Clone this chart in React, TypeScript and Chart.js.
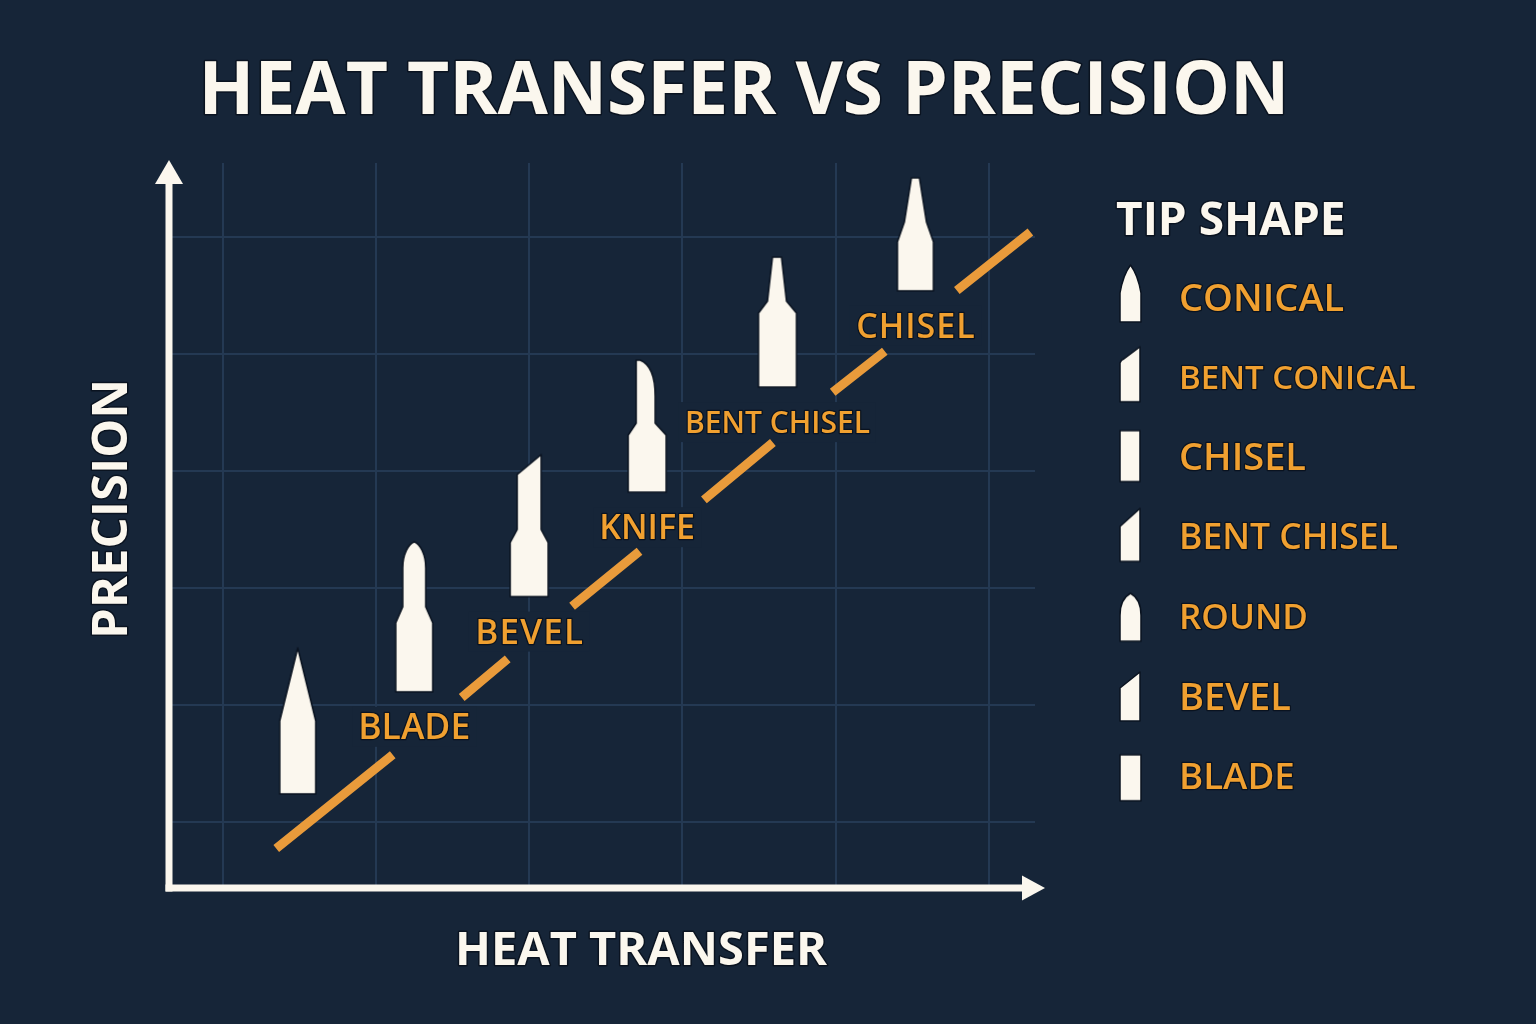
import React, { useEffect, useRef } from 'react';
import { Chart, registerables } from 'chart.js';

Chart.register(...registerables);

// ---------- texts ----------
const chartTitle = 'HEAT TRANSFER VS PRECISION';
const xAxisTitle = 'HEAT TRANSFER';
const yAxisTitle = 'PRECISION';
const legendTitle = 'TIP SHAPE';

// ---------- tip markers on the chart (grid units) ----------
const tipLabels = ['', 'BLADE', 'BEVEL', 'KNIFE', 'BENT CHISEL', 'CHISEL'];
const tipHeatTransfer = [0.49, 1.25, 2.0, 2.77, 3.62, 4.52];
const tipPrecision = [0.86, 1.75, 2.53, 3.38, 4.27, 5.02];

// ---------- trend line pieces (broken around the labels) ----------
const trendFromHeat = [0.35, 1.56, 2.28, 3.14, 3.98, 4.79];
const trendFromPrecision = [-0.23, 1.06, 1.84, 2.75, 3.67, 4.54];
const trendToHeat = [1.11, 1.86, 2.72, 3.59, 4.32, 5.27];
const trendToPrecision = [0.57, 1.39, 2.31, 3.24, 4.02, 5.04];

// ---------- grid ----------
const gridHeatTicks = [0, 1, 2, 3, 4, 5];
const gridPrecisionTicks = [0, 1, 2, 3, 4, 5];
const heatRange = [-0.33, 5.3];
const precisionRange = [-0.56, 5.63];

// ---------- legend ----------
const legendLabels = ['CONICAL', 'BENT CONICAL', 'CHISEL', 'BENT CHISEL', 'ROUND', 'BEVEL', 'BLADE'];

// ---------- styles ----------
const BG = '#162538';
const GRID = '#243953';
const CREAM = '#fbf7ee';
const ORANGE = '#f0a030';
const LINE_ORANGE = '#e99b3b';
const OUTLINE = '#0a1320';
const FONT = '"Open Sans", "Noto Sans", "DejaVu Sans", sans-serif';

// per-label text styles (size, letter spacing) for chart labels and legend entries
const PLOT_LABEL_STYLE = [
  { size: 35, spacing: 0 },
  { size: 35.5, spacing: 0 },
  { size: 35, spacing: 1.2 },
  { size: 34, spacing: 0 },
  { size: 30, spacing: 0 },
  { size: 34, spacing: 1 },
];
const LEGEND_LABEL_SIZE = [38, 33, 38, 35.5, 35, 38, 36.7];

type PathFn = (c: CanvasRenderingContext2D) => void;
interface MarkerSpec { w: number; h: number; path: PathFn }

const PLOT_MARKERS: MarkerSpec[] = [
  { w: 36, h: 146, path: (c) => { c.moveTo(0, 146); c.lineTo(0, 73); c.lineTo(18, 0); c.lineTo(36, 73); c.lineTo(36, 146); } },
  { w: 37, h: 150, path: (c) => { c.moveTo(0, 150); c.lineTo(0, 81); c.lineTo(7, 65); c.lineTo(7, 26); c.bezierCurveTo(7, 12, 13, 2, 18.5, 0); c.bezierCurveTo(24, 2, 30, 12, 30, 26); c.lineTo(30, 65); c.lineTo(37, 81); c.lineTo(37, 150); } },
  { w: 38, h: 142, path: (c) => { c.moveTo(0, 142); c.lineTo(0, 88); c.lineTo(7, 75); c.lineTo(7, 20); c.lineTo(31, 0); c.lineTo(31, 75); c.lineTo(38, 88); c.lineTo(38, 142); } },
  { w: 38, h: 132, path: (c) => { c.moveTo(0, 132); c.lineTo(0, 75); c.lineTo(8, 63); c.lineTo(8, 0); c.lineTo(12, 0); c.quadraticCurveTo(27, 6, 27, 36); c.lineTo(27, 63); c.lineTo(38, 75); c.lineTo(38, 132); } },
  { w: 38, h: 130, path: (c) => { c.moveTo(0, 130); c.lineTo(0, 56); c.lineTo(9, 44); c.lineTo(14, 0); c.lineTo(23, 0); c.lineTo(28, 44); c.lineTo(38, 56); c.lineTo(38, 130); } },
  { w: 36, h: 113, path: (c) => { c.moveTo(0, 113); c.lineTo(0, 64); c.lineTo(7, 44); c.lineTo(14, 0); c.lineTo(22, 0); c.lineTo(29, 44); c.lineTo(36, 64); c.lineTo(36, 113); } },
];

const LEGEND_MARKERS: MarkerSpec[] = [
  { w: 21, h: 57, path: (c) => { c.moveTo(0, 57); c.lineTo(0, 28); c.quadraticCurveTo(3, 10, 10.5, 0); c.quadraticCurveTo(18, 10, 21, 28); c.lineTo(21, 57); } },
  { w: 20, h: 55, path: (c) => { c.moveTo(0, 55); c.lineTo(0, 16); c.quadraticCurveTo(1, 13, 4, 12); c.lineTo(20, 0); c.lineTo(20, 55); } },
  { w: 20, h: 51, path: (c) => { c.rect(0, 0, 20, 51); } },
  { w: 20, h: 53, path: (c) => { c.moveTo(0, 53); c.lineTo(0, 18); c.lineTo(20, 0); c.lineTo(20, 53); } },
  { w: 21, h: 48, path: (c) => { c.moveTo(0, 48); c.lineTo(0, 22); c.bezierCurveTo(0, 10, 5, 3, 10.5, 0); c.bezierCurveTo(16, 3, 21, 10, 21, 22); c.lineTo(21, 48); } },
  { w: 20, h: 49, path: (c) => { c.moveTo(0, 49); c.lineTo(0, 16); c.lineTo(20, 0); c.lineTo(20, 49); } },
  { w: 21, h: 46, path: (c) => { c.rect(0, 0, 21, 46); } },
];

const M = 2; // marker canvas margin

function makeMarker(spec: MarkerSpec): HTMLCanvasElement {
  const cv = document.createElement('canvas');
  cv.width = spec.w + M * 2;
  cv.height = spec.h + M * 2;
  const c = cv.getContext('2d')!;
  c.translate(M, M);
  c.beginPath();
  spec.path(c);
  c.closePath();
  c.fillStyle = CREAM;
  c.fill();
  c.lineWidth = 1.5;
  c.lineJoin = 'round';
  c.strokeStyle = OUTLINE;
  c.stroke();
  return cv;
}

function setFont(ctx: CanvasRenderingContext2D, size: number, weight: number, spacing = 0) {
  ctx.font = `${weight} ${size}px ${FONT}`;
  (ctx as any).letterSpacing = `${spacing}px`;
}

function capText(
  ctx: CanvasRenderingContext2D, text: string, x: number, capCenterY: number,
  size: number, weight: number, color: string, align: CanvasTextAlign, outline = 3, spacing = 0,
) {
  setFont(ctx, size, weight, spacing);
  ctx.textAlign = align;
  ctx.textBaseline = 'alphabetic';
  const y = capCenterY + size * 0.357;
  if (outline > 0) {
    ctx.lineJoin = 'round';
    ctx.lineWidth = outline;
    ctx.strokeStyle = OUTLINE;
    ctx.strokeText(text, x, y);
  }
  ctx.fillStyle = color;
  ctx.fillText(text, x, y);
  (ctx as any).letterSpacing = '0px';
}

const LABEL_GAP = 35;

export default function App() {
  const ref = useRef<HTMLCanvasElement | null>(null);

  useEffect(() => {
    document.body.style.margin = '0';
    document.body.style.background = BG;
    const canvas = ref.current;
    if (!canvas) return;

    const markerImgs = PLOT_MARKERS.map(makeMarker);
    const legendImgs = LEGEND_MARKERS.map(makeMarker);

    const tipData = tipHeatTransfer.map((x, i) => ({ x, y: tipPrecision[i] }));
    const trendData: { x: number; y: number | null }[] = [];
    trendFromHeat.forEach((x, i) => {
      if (i > 0) trendData.push({ x: trendToHeat[i - 1], y: null });
      trendData.push({ x, y: trendFromPrecision[i] });
      trendData.push({ x: trendToHeat[i], y: trendToPrecision[i] });
    });

    const labelBoxes = (chart: Chart) => {
      const meta = chart.getDatasetMeta(0);
      const ctx = chart.ctx;
      return meta.data.map((el: any, i: number) => {
        const label = tipLabels[i];
        const st = PLOT_LABEL_STYLE[i];
        const img = markerImgs[i];
        const cy = el.y + (img.height - M * 2) / 2 + LABEL_GAP;
        setFont(ctx, st.size, 600, st.spacing);
        const w = label ? ctx.measureText(label).width : 0;
        (ctx as any).letterSpacing = '0px';
        return { label, x: el.x, cy, w, st };
      });
    };

    const decor = {
      id: 'decor',
      beforeDraw(chart: Chart) {
        const ctx = chart.ctx;
        ctx.save();
        ctx.fillStyle = BG;
        ctx.fillRect(0, 0, chart.width, chart.height);
        ctx.restore();
      },
      beforeDatasetsDraw(chart: Chart) {
        const ctx = chart.ctx;
        ctx.save();
        const boxes = labelBoxes(chart);
        ctx.fillStyle = BG;
        boxes.forEach((b) => {
          if (!b.label) return;
          ctx.fillRect(b.x - b.w / 2 - 6, b.cy - 20, b.w + 12, 40);
        });
        ctx.restore();
      },
      afterDatasetsDraw(chart: Chart) {
        const ctx = chart.ctx;
        ctx.save();
        labelBoxes(chart).forEach((b) => {
          if (!b.label) return;
          capText(ctx, b.label, b.x + b.st.spacing / 2, b.cy, b.st.size, 600, ORANGE, 'center', 2.5, b.st.spacing);
        });
        ctx.restore();
      },
      afterDraw(chart: Chart) {
        const ctx = chart.ctx;
        const { left, right, top, bottom } = chart.chartArea;
        ctx.save();

        // axes with arrows
        ctx.strokeStyle = CREAM;
        ctx.fillStyle = CREAM;
        ctx.lineWidth = 7;
        const ax = left - 3;
        const ay = bottom + 1;
        ctx.beginPath();
        ctx.moveTo(ax, ay + 3.5);
        ctx.lineTo(ax, top + 21);
        ctx.stroke();
        ctx.beginPath();
        ctx.moveTo(ax, top - 3);
        ctx.lineTo(ax - 14, top + 21);
        ctx.lineTo(ax + 14, top + 21);
        ctx.closePath();
        ctx.fill();

        ctx.beginPath();
        ctx.moveTo(ax - 3.5, ay);
        ctx.lineTo(right - 11, ay);
        ctx.stroke();
        ctx.beginPath();
        ctx.moveTo(right + 10, ay);
        ctx.lineTo(right - 13, ay - 12.5);
        ctx.lineTo(right - 13, ay + 12.5);
        ctx.closePath();
        ctx.fill();

        // title
        capText(ctx, chartTitle, 744, 88, 73, 700, CREAM, 'center', 3);

        // axis titles
        capText(ctx, xAxisTitle, 641, 948, 47, 700, CREAM, 'center', 3);
        ctx.save();
        ctx.translate(110, 509);
        ctx.rotate(-Math.PI / 2);
        capText(ctx, yAxisTitle, 0, 0, 49, 700, CREAM, 'center', 3);
        ctx.restore();

        // legend
        capText(ctx, legendTitle, 1116, 219, 46, 700, CREAM, 'left', 3);
        legendLabels.forEach((lab, i) => {
          const cy = 297 + i * 79.8;
          const img = legendImgs[i];
          const bottomY = cy + 25;
          ctx.drawImage(img, 1120 - M, bottomY - img.height + M);
          capText(ctx, lab, 1179, cy, LEGEND_LABEL_SIZE[i], 600, ORANGE, 'left', 2.5);
        });

        ctx.restore();
      },
    };

    const chart = new Chart(canvas, {
      type: 'scatter',
      data: {
        datasets: [
          {
            label: 'Tip shape',
            data: tipData,
            pointStyle: markerImgs as any,
            pointRadius: 10,
            showLine: false,
            order: 0,
          },
          {
            label: 'Trend',
            data: trendData as any,
            showLine: true,
            spanGaps: false,
            borderColor: LINE_ORANGE,
            borderWidth: 9,
            borderCapStyle: 'butt',
            pointRadius: 0,
            fill: false,
            order: 1,
          },
        ],
      },
      options: {
        responsive: false,
        animation: false,
        events: [],
        layout: { padding: { left: 172, right: 501, top: 163, bottom: 137 } },
        plugins: {
          legend: { display: false },
          title: { display: false },
          tooltip: { enabled: false },
        },
        scales: {
          x: {
            type: 'linear',
            min: heatRange[0],
            max: heatRange[1],
            bounds: 'data',
            afterBuildTicks: (axis: any) => { axis.ticks = gridHeatTicks.map((v) => ({ value: v })); },
            ticks: { display: false },
            border: { display: false },
            grid: { color: GRID, lineWidth: 2, drawTicks: false },
          },
          y: {
            type: 'linear',
            min: precisionRange[0],
            max: precisionRange[1],
            bounds: 'data',
            afterBuildTicks: (axis: any) => { axis.ticks = gridPrecisionTicks.map((v) => ({ value: v })); },
            ticks: { display: false },
            border: { display: false },
            grid: { color: GRID, lineWidth: 2, drawTicks: false },
          },
        },
      } as any,
      plugins: [decor],
    });

    return () => chart.destroy();
  }, []);

  return (
    <div style={{ position: 'fixed', left: 0, top: 0, width: 1536, height: 1024, background: BG }}>
      <canvas ref={ref} width={1536} height={1024} style={{ width: 1536, height: 1024, display: 'block' }} />
    </div>
  );
}
